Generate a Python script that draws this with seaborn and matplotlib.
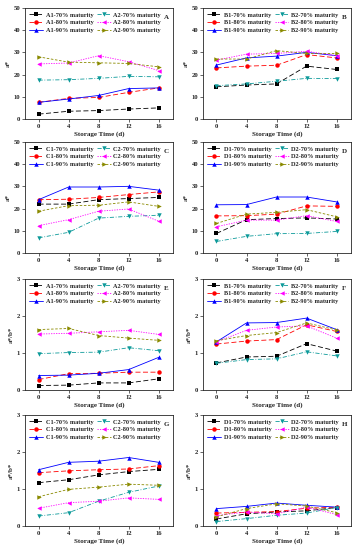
import matplotlib
matplotlib.use('Agg')
import matplotlib.pyplot as plt
import seaborn as sns
import pandas as pd

days = [0, 4, 8, 12, 16]
maturity = ["70%", "80%", "90%"]

# a* values, panels A-D
A1 = [[2.2, 3.5, 3.8, 4.5, 5.0], [7.5, 9.3, 9.7, 12.0, 14.0], [7.5, 9.0, 10.6, 13.7, 14.0]]
A2 = [[17.5, 17.7, 18.3, 19.2, 19.0], [24.8, 25.2, 28.5, 25.8, 21.8], [28.0, 25.6, 25.3, 25.0, 23.5]]
B1 = [[14.5, 15.3, 15.8, 23.8, 22.3], [23.0, 23.8, 24.2, 29.0, 27.5], [24.3, 27.5, 28.3, 30.0, 28.5]]
B2 = [[15.0, 15.8, 17.0, 18.3, 18.2], [26.5, 29.2, 29.5, 30.5, 28.5], [27.0, 27.0, 30.8, 29.5, 29.5]]
C1 = [[22.0, 22.0, 24.0, 24.5, 25.0], [24.0, 24.2, 25.0, 26.3, 27.5], [24.0, 29.7, 29.7, 30.0, 28.3]]
C2 = [[6.8, 9.3, 15.7, 16.5, 17.0], [12.3, 15.0, 18.8, 19.8, 14.3], [18.8, 21.3, 21.5, 23.0, 21.0]]
D1 = [[8.8, 15.0, 15.5, 15.8, 15.3], [16.7, 16.8, 17.5, 21.2, 21.0], [21.7, 21.8, 25.2, 25.2, 23.0]]
D2 = [[5.2, 7.5, 8.7, 8.8, 9.7], [11.8, 14.8, 14.8, 16.8, 14.2], [13.3, 17.5, 18.3, 19.5, 16.3]]

# a*/b* values, panels E-H
A1r = [[0.12, 0.13, 0.19, 0.19, 0.30], [0.28, 0.44, 0.45, 0.48, 0.48], [0.39, 0.40, 0.45, 0.55, 0.88]]
A2r = [[0.98, 1.01, 1.02, 1.14, 1.06], [1.51, 1.53, 1.57, 1.61, 1.50], [1.63, 1.66, 1.47, 1.40, 1.34]]
B1r = [[0.73, 0.89, 0.91, 1.25, 1.05], [1.24, 1.32, 1.36, 1.76, 1.58], [1.30, 1.81, 1.82, 1.94, 1.63]]
B2r = [[0.72, 0.82, 0.84, 1.03, 0.92], [1.30, 1.61, 1.70, 1.73, 1.40], [1.33, 1.47, 1.55, 1.81, 1.62]]
C1r = [[1.17, 1.25, 1.38, 1.47, 1.53], [1.44, 1.49, 1.52, 1.54, 1.63], [1.52, 1.72, 1.75, 1.85, 1.72]]
C2r = [[0.27, 0.36, 0.67, 0.91, 1.08], [0.48, 0.63, 0.67, 0.76, 0.72], [0.79, 0.99, 1.05, 1.13, 1.10]]
D1r = [[0.19, 0.33, 0.38, 0.41, 0.50], [0.35, 0.37, 0.39, 0.48, 0.51], [0.47, 0.53, 0.62, 0.56, 0.51]]
D2r = [[0.12, 0.20, 0.29, 0.35, 0.50], [0.28, 0.38, 0.33, 0.51, 0.31], [0.25, 0.47, 0.60, 0.54, 0.36]]

panels = [
    ("A", "A", A1, A2, "a*", 50, [0, 10, 20, 30, 40, 50]),
    ("B", "B", B1, B2, "a*", 50, [0, 10, 20, 30, 40, 50]),
    ("C", "C", C1, C2, "a*", 50, [0, 10, 20, 30, 40, 50]),
    ("D", "D", D1, D2, "a*", 50, [0, 10, 20, 30, 40, 50]),
    ("E", "A", A1r, A2r, "a*/b*", 3, [0, 1, 2, 3]),
    ("F", "B", B1r, B2r, "a*/b*", 3, [0, 1, 2, 3]),
    ("G", "C", C1r, C2r, "a*/b*", 3, [0, 1, 2, 3]),
    ("H", "D", D1r, D2r, "a*/b*", 3, [0, 1, 2, 3]),
]

# styles: group1 70/80/90, group2 70/80/90
colors = ["black", "red", "blue", "#0d9a9a", "magenta", "#8a8a00"]
marks = ["s", "o", "^", "v", "<", ">"]
lstyles = [(0, (6, 3)), (0, (6, 3)), "-", (0, (5, 2, 1, 2)), (0, (1.5, 1.5)), (0, (3, 2))]

sns.set_style("ticks")
plt.rcParams['font.family'] = ['Liberation Serif', 'DejaVu Serif']
plt.rcParams['font.weight'] = 'bold'

fig = plt.figure(figsize=(3.58, 5.5), dpi=100)
lefts = [0.07, 0.567]
bottoms = [0.7836, 0.54, 0.291, 0.0436]

for i, (letter, grp, g1, g2, ylab, ymax, yt) in enumerate(panels):
    ax = fig.add_axes([lefts[i % 2], bottoms[i // 2], 0.413, 0.202])
    series = []
    for k, m in enumerate(maturity):
        series.append((grp + "1-" + m + " maturity", g1[k]))
    for k, m in enumerate(maturity):
        series.append((grp + "2-" + m + " maturity", g2[k]))
    for j, (name, vals) in enumerate(series):
        df = pd.DataFrame({"day": days, "val": vals})
        sns.lineplot(data=df, x="day", y="val", ax=ax, color=colors[j], marker=marks[j],
                     markersize=3.2, markeredgewidth=0, linewidth=0.6, linestyle=lstyles[j],
                     label=name)
    ax.set_xlim(-1.8, 17.9)
    ax.set_ylim(0, ymax)
    ax.set_xticks(days)
    ax.set_yticks(yt)
    ax.tick_params(labelsize=4.8, length=2, width=0.5, pad=1.5)
    for s in ax.spines.values():
        s.set_linewidth(0.6)
        s.set_visible(True)
    ax.set_xlabel("Storage Time (d)", fontsize=5, fontweight="bold", labelpad=2)
    ax.set_ylabel(ylab, fontsize=5, fontweight="bold", labelpad=2)
    ax.legend(ncol=2, loc="upper left", bbox_to_anchor=(0.0, 1.0), frameon=False,
              fontsize=4.5, handlelength=2.2, columnspacing=0.6, labelspacing=0.35,
              handletextpad=0.4, borderaxespad=0.3)
    ax.text(0.955, 0.9, letter, transform=ax.transAxes, fontsize=5, ha="center")

fig.savefig("out.png", dpi=100)
plt.close()
